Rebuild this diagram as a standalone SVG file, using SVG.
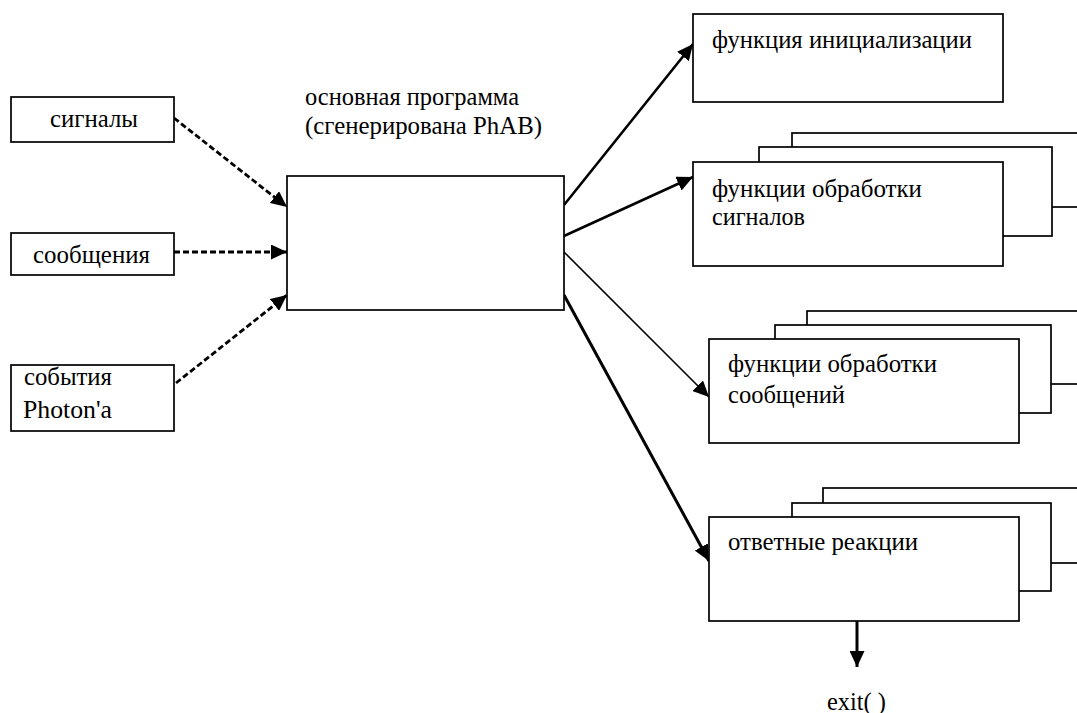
<svg xmlns="http://www.w3.org/2000/svg" width="1077" height="713" viewBox="0 0 1077 713">
<defs>
<marker id="ah" markerUnits="userSpaceOnUse" markerWidth="17" markerHeight="15" refX="16" refY="7.5" orient="auto">
<path d="M0,0 L16,7.5 L0,15 z" fill="#000"/>
</marker>
<style>
.box{fill:#fff;stroke:#000;stroke-width:1.7}
.t{font-family:"Liberation Serif","Times New Roman",serif;font-size:25px;fill:#000}
.sol{fill:none;stroke:#000;marker-end:url(#ah)}
.dash{fill:none;stroke:#000;stroke-width:2.8;stroke-dasharray:6 3;marker-end:url(#ah)}
</style>
</defs>
<rect width="1077" height="713" fill="#fff"/>

<g id="connectors">
<line class="dash" x1="174" y1="118" x2="287" y2="207"/>
<line class="dash" x1="174" y1="252" x2="287" y2="252"/>
<line class="dash" x1="176" y1="383" x2="287" y2="295"/>
<line class="sol" stroke-width="2.6" x1="564" y1="205" x2="693" y2="44"/>
<line class="sol" stroke-width="2.6" x1="564" y1="236" x2="693" y2="177"/>
<line class="sol" stroke-width="1.6" x1="564" y1="252" x2="709" y2="397"/>
<line class="sol" stroke-width="3" x1="564" y1="295" x2="709" y2="561"/>
<line class="sol" stroke-width="3" x1="857" y1="621" x2="857" y2="667"/>
</g>

<g id="signals-in">
<rect class="box" x="11" y="97" width="163" height="45"/>
<text class="t" x="50" y="127" textLength="88" lengthAdjust="spacingAndGlyphs">сигналы</text>
</g>
<g id="messages-in">
<rect class="box" x="11" y="233" width="163" height="42"/>
<text class="t" x="33" y="263" textLength="117" lengthAdjust="spacingAndGlyphs">сообщения</text>
</g>
<g id="events-in">
<rect class="box" x="11" y="365" width="163" height="66"/>
<text class="t" x="24" y="385" textLength="88" lengthAdjust="spacingAndGlyphs">события</text>
<text class="t" x="23" y="418" textLength="89" lengthAdjust="spacingAndGlyphs">Photon'a</text>
</g>

<g id="main">
<text class="t" x="305" y="105" textLength="214" lengthAdjust="spacingAndGlyphs">основная программа</text>
<text class="t" x="305" y="134" textLength="237" lengthAdjust="spacingAndGlyphs">(сгенерирована PhAB)</text>
<rect class="box" x="287" y="176" width="277" height="134"/>
</g>

<g id="init">
<rect class="box" x="693" y="14" width="310" height="88"/>
<text class="t" x="712" y="48" textLength="260" lengthAdjust="spacingAndGlyphs">функция инициализации</text>
</g>

<g id="signal-handlers">
<rect class="box" x="792" y="133" width="300" height="74"/>
<rect class="box" x="759" y="147" width="293" height="89"/>
<rect class="box" x="693" y="162" width="310" height="104"/>
<text class="t" x="712" y="197" textLength="210" lengthAdjust="spacingAndGlyphs">функции обработки</text>
<text class="t" x="712" y="225" textLength="93" lengthAdjust="spacingAndGlyphs">сигналов</text>
</g>

<g id="message-handlers">
<rect class="box" x="807" y="311" width="290" height="73"/>
<rect class="box" x="775" y="325" width="276" height="88"/>
<rect class="box" x="709" y="339" width="310" height="104"/>
<text class="t" x="728" y="372" textLength="209" lengthAdjust="spacingAndGlyphs">функции обработки</text>
<text class="t" x="728" y="403" textLength="117" lengthAdjust="spacingAndGlyphs">сообщений</text>
</g>

<g id="reactions">
<rect class="box" x="823" y="488" width="280" height="75"/>
<rect class="box" x="792" y="503" width="259" height="88"/>
<rect class="box" x="709" y="517" width="310" height="104"/>
<text class="t" x="728" y="550" textLength="190" lengthAdjust="spacingAndGlyphs">ответные реакции</text>
</g>

<g id="exit">
<text class="t" x="827" y="710" textLength="59" lengthAdjust="spacingAndGlyphs">exit( )</text>
</g>
</svg>
